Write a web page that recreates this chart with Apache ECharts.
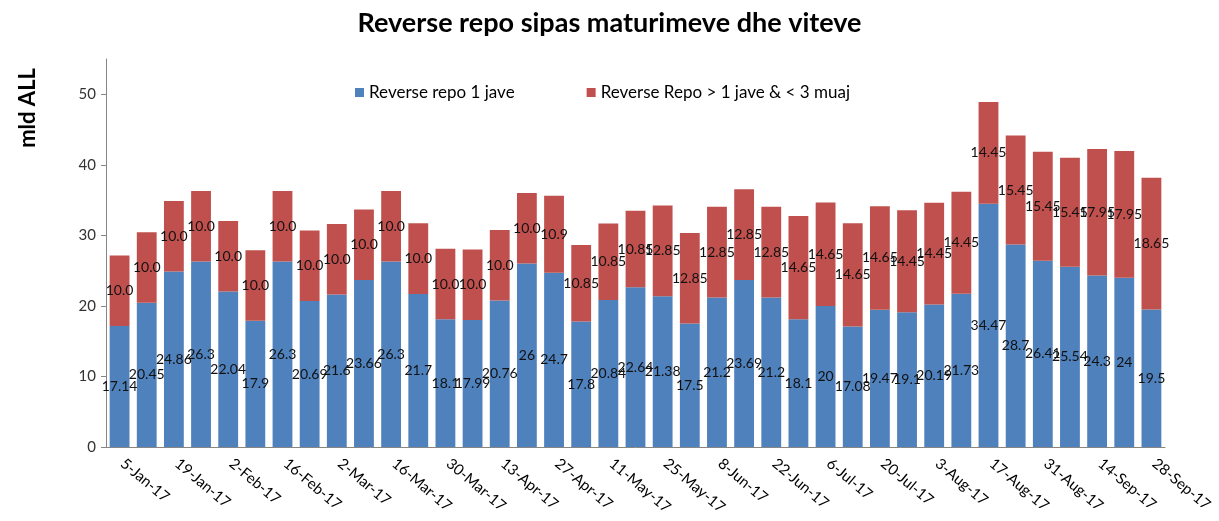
<!DOCTYPE html>
<html>
<head>
<meta charset="utf-8">
<title>Reverse repo</title>
<script src="https://cdn.jsdelivr.net/npm/echarts@6/dist/echarts.min.js"></script>
<style>
    html, body { margin: 0; padding: 0; background: #fff; }
    #chart { width: 1219px; height: 521px; }
</style>
</head>
<body>
<div id="chart"></div>
<script>
    /** kategorite (javet) */
    var dates = ['5-Jan-17','12-Jan-17','19-Jan-17','26-Jan-17','2-Feb-17','9-Feb-17','16-Feb-17','23-Feb-17',
        '2-Mar-17','9-Mar-17','16-Mar-17','23-Mar-17','30-Mar-17','6-Apr-17','13-Apr-17','20-Apr-17','27-Apr-17',
        '4-May-17','11-May-17','18-May-17','25-May-17','1-Jun-17','8-Jun-17','15-Jun-17','22-Jun-17','29-Jun-17',
        '6-Jul-17','13-Jul-17','20-Jul-17','27-Jul-17','3-Aug-17','10-Aug-17','17-Aug-17','24-Aug-17','31-Aug-17',
        '7-Sep-17','14-Sep-17','21-Sep-17','28-Sep-17'];
    /** Reverse repo 1 jave */
    var repo1w = [17.14,20.45,24.86,26.3,22.04,17.9,26.3,20.69,21.6,23.66,26.3,21.7,18.1,17.99,20.76,26,24.7,
        17.8,20.84,22.64,21.38,17.5,21.2,23.69,21.2,18.1,20,17.08,19.47,19.1,20.19,21.73,34.47,28.7,26.41,
        25.54,24.3,24,19.5];
    /** Reverse Repo > 1 jave & < 3 muaj */
    var repo3m = [10,10,10,10,10,10,10,10,10,10,10,10,10,10,10,10,10.9,10.85,10.85,10.85,12.85,12.85,12.85,
        12.85,12.85,14.65,14.65,14.65,14.65,14.45,14.45,14.45,14.45,15.45,15.45,15.45,17.95,17.95,18.65];
    var yTicks = [0,10,20,30,40,50];

    var font = 'Lato, "Open Sans", sans-serif';
    var chart = echarts.init(document.getElementById('chart'));

    var labelStyle = {
        show: true,
        position: 'inside',
        color: '#111',
        fontFamily: font,
        fontSize: 14
    };

    chart.setOption({
        animation: false,
        title: {
            text: 'Reverse repo sipas maturimeve dhe viteve',
            left: 'center',
            top: 5,
            textStyle: { fontFamily: font, fontWeight: 'bold', fontSize: 27, color: '#000' }
        },
        graphic: [{
            type: 'text',
            left: 17,
            top: 68,
            rotation: Math.PI / 2,
            style: {
                text: 'mld ALL',
                fontFamily: font,
                fontWeight: 'bold',
                fontSize: 22,
                fill: '#000'
            }
        }],
        legend: {
            top: 79,
            left: 350,
            itemWidth: 9,
            itemHeight: 9,
            itemGap: 72,
            icon: 'rect',
            textStyle: { fontFamily: font, fontSize: 17, color: '#000' },
            data: ['Reverse repo 1 jave', 'Reverse Repo > 1 jave & < 3 muaj']
        },
        grid: { left: 106, right: 54, top: 59, bottom: 74, outerBoundsMode: 'none' },
        xAxis: {
            type: 'category',
            data: dates,
            axisLine: { lineStyle: { color: '#868686' } },
            axisTick: { interval: 0, length: 5, lineStyle: { color: '#868686' } },
            axisLabel: {
                interval: 1,
                rotate: -40,
                margin: 12,
                padding: [0, 0, 0, 4],
                color: '#000',
                fontFamily: font,
                fontSize: 15
            }
        },
        yAxis: {
            type: 'value',
            min: 0,
            max: 55,
            interval: 10,
            axisLine: { show: true, lineStyle: { color: '#868686' } },
            axisTick: { show: true, length: 5, customValues: yTicks, lineStyle: { color: '#868686' } },
            splitLine: { show: false },
            axisLabel: {
                customValues: yTicks,
                margin: 10,
                color: '#333',
                fontFamily: font,
                fontSize: 15
            }
        },
        series: [
            {
                name: 'Reverse repo 1 jave',
                type: 'bar',
                stack: 'total',
                barCategoryGap: '27%',
                itemStyle: { color: '#4F81BD' },
                label: labelStyle,
                data: repo1w
            },
            {
                name: 'Reverse Repo > 1 jave & < 3 muaj',
                type: 'bar',
                stack: 'total',
                itemStyle: { color: '#C0504D' },
                label: echarts.util.extend({
                    formatter: function (p) {
                        return p.value === 10 ? '10.0' : String(p.value);
                    }
                }, labelStyle),
                data: repo3m
            }
        ]
    });
</script>
</body>
</html>
